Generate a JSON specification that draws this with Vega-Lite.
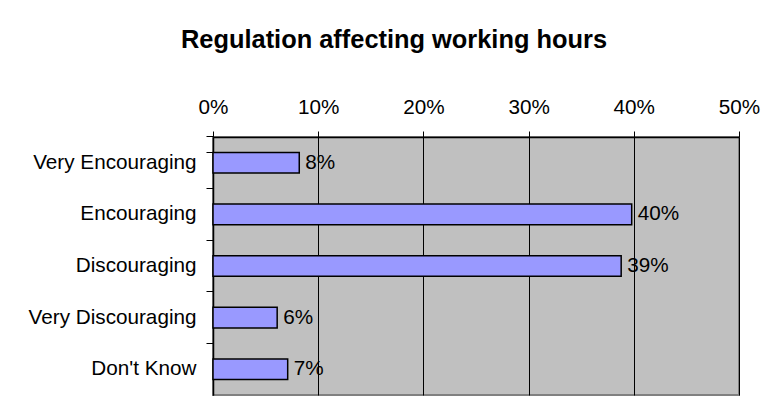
{
  "$schema": "https://vega.github.io/schema/vega-lite/v6.json",
  "width": 526,
  "height": 258,
  "autosize": {"type": "none"},
  "padding": {"left": 213, "top": 137, "right": 27, "bottom": 10},
  "background": "white",
  "title": {
    "text": "Regulation affecting working hours",
    "font": "Liberation Sans",
    "fontSize": 25.4,
    "fontWeight": "bold",
    "color": "black",
    "anchor": "middle",
    "dx": -82,
    "offset": 43
  },
  "data": {
    "values": [
      {"category": "Very Encouraging", "share": 0.082},
      {"category": "Encouraging", "share": 0.398},
      {"category": "Discouraging", "share": 0.388},
      {"category": "Very Discouraging", "share": 0.061},
      {"category": "Don't Know", "share": 0.071}
    ]
  },
  "encoding": {
    "y": {
      "field": "category",
      "type": "nominal",
      "sort": null,
      "scale": {"paddingInner": 0.6, "paddingOuter": 0.3},
      "axis": {
        "title": null,
        "orient": "left",
        "bandPosition": -0.75,
        "tickExtra": true,
        "tickSize": 7,
        "tickColor": "black",
        "domainColor": "black",
        "domainWidth": 1.5,
        "labelFont": "Liberation Sans",
        "labelFontSize": 20.7,
        "labelColor": "black",
        "labelPadding": 10
      }
    },
    "x": {
      "field": "share",
      "type": "quantitative",
      "scale": {"domain": [0, 0.5], "nice": false},
      "axis": {
        "title": null,
        "orient": "top",
        "values": [0, 0.1, 0.2, 0.3, 0.4, 0.5],
        "format": ".0%",
        "labelFlush": false,
        "grid": true,
        "gridColor": "black",
        "gridOpacity": 1,
        "gridWidth": 1,
        "tickColor": "black",
        "tickSize": 6,
        "domainColor": "black",
        "domainWidth": 1.5,
        "labelFont": "Liberation Sans",
        "labelFontSize": 20.7,
        "labelColor": "black",
        "labelPadding": 14
      }
    }
  },
  "layer": [
    {
      "mark": {"type": "bar", "fill": "#9999FF", "stroke": "black", "strokeWidth": 1.5}
    },
    {
      "mark": {
        "type": "text",
        "align": "left",
        "baseline": "middle",
        "dx": 6,
        "font": "Liberation Sans",
        "fontSize": 20.7,
        "color": "black"
      },
      "encoding": {"text": {"field": "share", "type": "quantitative", "format": ".0%"}}
    }
  ],
  "config": {
    "view": {"fill": "#C0C0C0", "stroke": "#808080", "strokeWidth": 2}
  }
}
